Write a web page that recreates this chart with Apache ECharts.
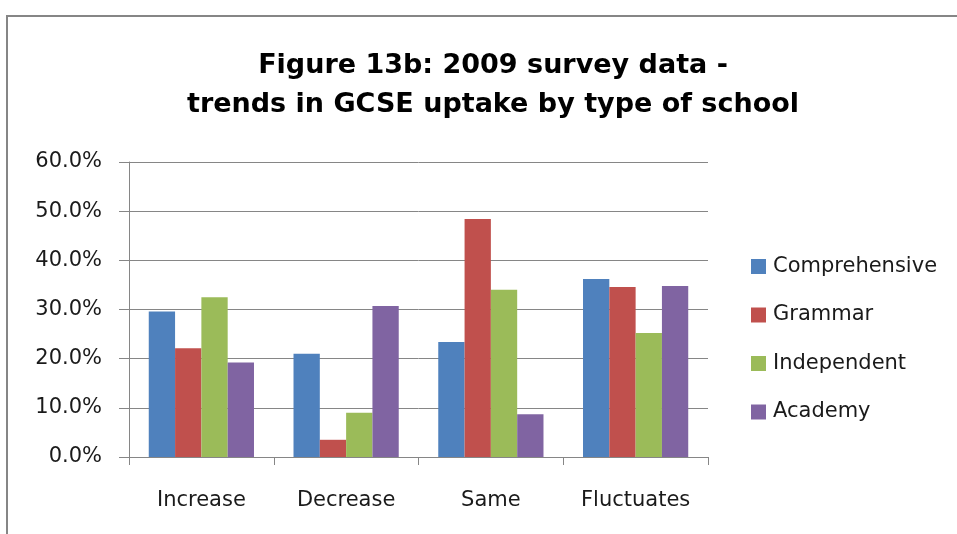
<!DOCTYPE html>
<html>
<head>
<meta charset="utf-8">
<script src="https://cdn.jsdelivr.net/npm/echarts@6/dist/echarts.min.js"></script>
<style>
html,body{margin:0;padding:0;background:#fff;}
#chart{width:957px;height:534px;}
</style>
</head>
<body>
<div id="chart"></div>
<script>
const titleText = 'Figure 13b: 2009 survey data -\ntrends in GCSE uptake by type of school';
const categories = ['Increase', 'Decrease', 'Same', 'Fluctuates'];
const seriesNames = ['Comprehensive', 'Grammar', 'Independent', 'Academy'];
const comprehensive = [29.6, 21.0, 23.4, 36.2];
const grammar = [22.1, 3.5, 48.4, 34.6];
const independent = [32.5, 9.0, 34.0, 25.2];
const academy = [19.2, 30.7, 8.7, 34.8];
const yTicks = [0, 10, 20, 30, 40, 50, 60];
const colors = ['#4F81BD', '#C0504D', '#9BBB59', '#8064A2'];

const allValues = [comprehensive, grammar, independent, academy];
const FONT = 'DejaVu Sans';
const chart = echarts.init(document.getElementById('chart'));
chart.setOption({
  animation: false,
  backgroundColor: '#ffffff',
  graphic: [{
    type: 'rect',
    shape: {x: 7, y: 16, width: 1000, height: 600},
    style: {fill: 'none', stroke: '#868686', lineWidth: 2},
    silent: true
  }],
  title: {
    text: titleText,
    left: 488,
    top: 41,
    textAlign: 'center',
    textStyle: {fontFamily: FONT, fontWeight: 'bold', fontSize: 27, lineHeight: 39, color: '#000'}
  },
  legend: {
    orient: 'vertical',
    left: 751,
    top: 256,
    padding: 0,
    itemWidth: 15,
    itemHeight: 15,
    itemGap: 27.5,
    icon: 'rect',
    textStyle: {fontFamily: FONT, fontSize: 21, color: '#1a1a1a', padding: [0, 0, 0, 2]},
    data: seriesNames
  },
  grid: {left: 129, right: 249, top: 162, bottom: 77},
  xAxis: {
    type: 'category',
    data: categories,
    axisLine: {lineStyle: {color: '#868686', width: 1}},
    axisTick: {show: true, length: 8, lineStyle: {color: '#868686'}},
    axisLabel: {fontFamily: FONT, fontSize: 21, color: '#1a1a1a', margin: 33}
  },
  yAxis: {
    type: 'value',
    min: 0, max: 60, interval: 10,
    axisLine: {show: true, lineStyle: {color: '#868686', width: 1}},
    axisTick: {show: true, length: 10, lineStyle: {color: '#868686'}},
    splitLine: {show: true, lineStyle: {color: '#868686', width: 1}},
    axisLabel: {
      fontFamily: FONT, fontSize: 21, color: '#1a1a1a', margin: 27,
      formatter: v => yTicks.includes(v) ? v.toFixed(1) + '%' : ''
    }
  },
  series: seriesNames.map((name, i) => ({
    name: name,
    type: 'bar',
    data: allValues[i],
    barGap: '0%',
    barCategoryGap: '27.3%',
    itemStyle: {color: colors[i]}
  }))
});
</script>
</body>
</html>
